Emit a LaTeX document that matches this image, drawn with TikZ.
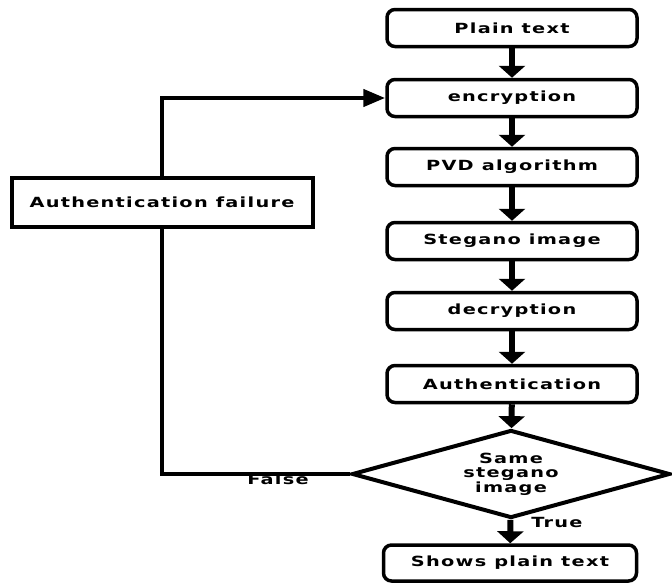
\documentclass[tikz,border=0pt]{standalone}
\usepackage{fontspec}
\setmainfont{DejaVu Sans}[BoldFont={DejaVu Sans Bold}]
\newfontfamily\lblfont{DejaVu Sans Bold}[FakeStretch=1.38,LetterSpace=9]
\usetikzlibrary{arrows.meta,shapes.geometric}
\tikzset{
  stepbox/.style={draw, line width=3.5pt, rounded corners=8pt, minimum width=250pt, minimum height=37pt, inner sep=0pt, font=\lblfont\fontsize{14}{16}\selectfont},
  failbox/.style={draw, line width=4pt, minimum width=301pt, minimum height=49pt, inner sep=0pt, font=\lblfont\fontsize{14}{16}\selectfont},
  decision/.style={draw, diamond, line width=4pt, aspect=3.6, minimum width=318pt, minimum height=88pt, inner sep=0pt, align=center, font=\lblfont\fontsize{14}{14.5}\selectfont},
  flow/.style={line width=6pt, -{Triangle[width=26pt,length=12pt]}},
  back/.style={line width=4.5pt},
  lbl/.style={font=\lblfont\fontsize{14}{16}\selectfont, inner sep=0pt}
}
\begin{document}
\begin{tikzpicture}[x=1pt,y=-1pt]
\useasboundingbox (0,0) rectangle (672,582);
\node[stepbox] (plain) at (512,28) {Plain text};
\node[stepbox] (enc) at (512,98) {encryption};
\node[stepbox] (pvd) at (512,167) {PVD algorithm};
\node[stepbox] (steg) at (512,241) {Stegano image};
\node[stepbox] (dec) at (512,311) {decryption};
\node[stepbox] (auth) at (512,384) {Authentication};
\node[decision] (same) at (511,474) {Same\\stegano\\image};
\node[stepbox, minimum width=253pt, minimum height=36pt] (shows) at (510,563) {Shows plain text};
\node[failbox] (fail) at (162,202) {Authentication failure};
\node[lbl] (false) at (278,479) {False};
\node[lbl] (true) at (557,522) {True};
\coordinate (corner) at (162,474);
\draw[flow] (plain) -- (enc);
\draw[flow] (enc) -- (pvd);
\draw[flow] (pvd) -- (steg);
\draw[flow] (steg) -- (dec);
\draw[flow] (dec) -- (auth);
\draw[flow] (auth) -- (same);
\draw[flow] (same) -- (shows);
\draw[back] (same.west) -- (corner) -- (fail.south);
\draw[back, -{Triangle[width=17pt,length=22pt]}] (fail.north) |- (enc.west);
\end{tikzpicture}
\end{document}
